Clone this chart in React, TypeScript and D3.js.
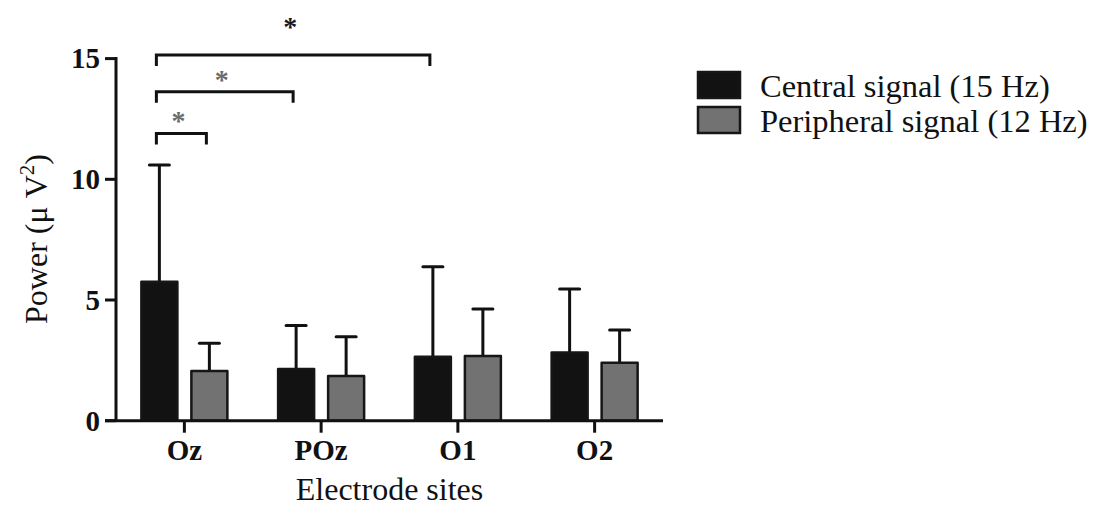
import React from 'react';
import * as d3 from 'd3';

const sites = ['Oz', 'POz', 'O1', 'O2'];
const seriesNames = ['Central signal (15 Hz)', 'Peripheral signal (12 Hz)'];
const centralMean = [5.76, 2.14, 2.65, 2.83];
const centralErr = [10.59, 3.94, 6.38, 5.46];
const peripheralMean = [2.06, 1.85, 2.68, 2.4];
const peripheralErr = [3.21, 3.48, 4.63, 3.76];
const yTicks = [0, 5, 10, 15];

// significance brackets: from (site, series) to (site, series) at a level
const brackets = [
  { from: ['Oz', 0], to: ['O1', 0], level: 15.15, color: '#1a1a1a' },
  { from: ['Oz', 0], to: ['POz', 0], level: 13.63, color: '#6a6a6a' },
  { from: ['Oz', 0], to: ['Oz', 1], level: 11.9, color: '#6a6a6a' },
];

const FONT = '"Liberation Serif", "Times New Roman", serif';
const fills = ['#121212', '#727272'];

const App: React.FC = () => {
  const width = 1097;
  const height = 508;

  const x = d3.scaleBand<string>().domain(sites).range([116, 663]);
  const inner = d3
    .scaleBand<number>()
    .domain([0, 1])
    .range([0, 86])
    .paddingInner(0.28);
  const y = d3.scaleLinear().domain([0, 15]).range([420.7, 58.6]);

  const barX = (site: string, s: number) =>
    (x(site) as number) + x.bandwidth() / 2 - 43 + (inner(s) as number);
  const barCenter = (site: string, s: number) => barX(site, s) + inner.bandwidth() / 2;

  const rows = sites.flatMap((site, i) => [
    { site, s: 0, mean: centralMean[i], err: centralErr[i] },
    { site, s: 1, mean: peripheralMean[i], err: peripheralErr[i] },
  ]);

  return (
    <svg
      width={width}
      height={height}
      style={{ position: 'absolute', left: 0, top: 0, background: '#fff' }}
      fontFamily={FONT}
    >
      {/* error bars */}
      {rows.map((d, i) => {
        const cx = barCenter(d.site, d.s);
        return (
          <g key={'e' + i} stroke="#111" strokeWidth={3}>
            <line x1={cx} x2={cx} y1={y(d.mean)} y2={y(d.err)} />
            <line x1={cx - 10} x2={cx + 10} y1={y(d.err)} y2={y(d.err)} strokeLinecap="round" />
          </g>
        );
      })}
      {/* bars */}
      {rows.map((d, i) => (
        <rect
          key={'b' + i}
          x={barX(d.site, d.s)}
          y={y(d.mean)}
          width={inner.bandwidth()}
          height={y(0) - y(d.mean)}
          fill={fills[d.s]}
          stroke="#161616"
          strokeWidth={2.5}
          strokeLinejoin="round"
        />
      ))}
      {/* y axis */}
      <line x1={116} x2={116} y1={y(15) - 1.5} y2={y(0)} stroke="#111" strokeWidth={3} />
      {yTicks.map((t) => (
        <g key={'yt' + t}>
          <line x1={105} x2={116} y1={y(t)} y2={y(t)} stroke="#111" strokeWidth={3} />
          <text
            x={100}
            y={y(t)}
            dy="0.34em"
            textAnchor="end"
            fontSize={29}
            fontWeight="bold"
            fill="#111"
          >
            {t}
          </text>
        </g>
      ))}
      {/* x axis */}
      <line x1={105} x2={663} y1={y(0)} y2={y(0)} stroke="#111" strokeWidth={3} />
      {sites.map((s) => {
        const cx = (x(s) as number) + x.bandwidth() / 2;
        return (
          <g key={'xt' + s}>
            <line x1={cx} x2={cx} y1={y(0)} y2={y(0) + 12} stroke="#111" strokeWidth={3} />
            <text x={cx} y={460} textAnchor="middle" fontSize={29} fontWeight="bold" fill="#111">
              {s}
            </text>
          </g>
        );
      })}
      <text x={389.5} y={500} textAnchor="middle" fontSize={32} fill="#111">
        Electrode sites
      </text>
      <text transform="translate(47,239) rotate(-90)" textAnchor="middle" fontSize={32} fill="#111">
        Power (μ V<tspan fontSize={21} dy={-13}>2</tspan>
        <tspan dy={13}>)</tspan>
      </text>
      {/* significance brackets */}
      {brackets.map((b, i) => {
        const x1 = barCenter(b.from[0] as string, b.from[1] as number) - 3;
        const x2 = barCenter(b.to[0] as string, b.to[1] as number) - 3;
        const yy = y(b.level);
        return (
          <g key={'br' + i}>
            <path
              d={`M${x1},${yy + 11}V${yy}H${x2}V${yy + 11}`}
              fill="none"
              stroke="#111"
              strokeWidth={3}
            />
            <text
              x={(x1 + x2) / 2 - 3}
              y={yy - (i === 0 ? 19 : 3)}
              textAnchor="middle"
              fontSize={28}
              fontWeight="bold"
              fill={b.color}
            >
              *
            </text>
          </g>
        );
      })}
      {/* legend */}
      {seriesNames.map((n, i) => (
        <g key={'lg' + i}>
          <rect
            x={698}
            y={72 + i * 35}
            width={42}
            height={26}
            fill={fills[i]}
            stroke="#161616"
            strokeWidth={2.5}
          />
          <text x={760} y={97 + i * 35} fontSize={32.5} fill="#111">
            {n}
          </text>
        </g>
      ))}
    </svg>
  );
};

export default App;
